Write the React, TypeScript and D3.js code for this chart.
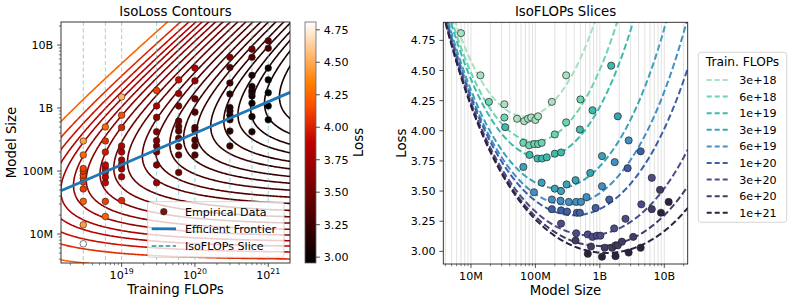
import React, { useEffect, useRef } from 'react';
import * as d3 from 'd3';

// IsoFLOP budgets (training FLOPs)
const budgets = [3e18, 6e18, 1e19, 3e19, 6e19, 1e20, 3e20, 6e20, 1e21];
const budgetLabels = ['3e+18', '6e+18', '1e+19', '3e+19', '6e+19', '1e+20', '3e+20', '6e+20', '1e+21'];
const budgetColors = ['#a6e1c0', '#6bd4b0', '#3dbaab', '#3ba3b6', '#4290c2', '#3d5fa7', '#4c4b8b', '#433a67', '#2c2240'];

// model sizes trained at each budget
const sliceSizes = [
  [7.0e6, 1.4e7, 3.3e7, 5.2e7, 6.7e7, 7.7e7, 8.6e7, 1.0e8, 1.1e8, 1.8e8, 3.0e8],
  [1.9e7, 3.3e7, 6.5e7, 8.0e7, 9.6e7, 1.1e8, 1.25e8, 2.0e8, 3.0e8, 5.0e8],
  [3.4e7, 8.1e7, 1.08e8, 1.27e8, 1.5e8, 2.0e8, 2.5e8, 4.9e8, 7.7e8, 1.5e9],
  [6.5e7, 1.25e8, 2.0e8, 2.5e8, 3.05e8, 4.2e8, 7.1e8, 1.08e9, 1.9e9],
  [9.5e7, 1.8e8, 2.45e8, 3.3e8, 4.3e8, 5.1e8, 6.2e8, 1.08e9, 1.7e9, 2.8e9],
  [1.8e8, 2.5e8, 3.1e8, 4.4e8, 4.9e8, 8.6e8, 1.4e9, 2.7e9, 4.3e9],
  [2.5e8, 4.3e8, 6.5e8, 7.7e8, 9.0e8, 1.02e9, 1.67e9, 2.5e9, 4.4e9, 6.4e9],
  [4.2e8, 7.3e8, 1.19e9, 1.55e9, 1.75e9, 1.9e9, 2.2e9, 3.3e9, 6.4e9, 8.6e9],
  [6.5e8, 1.08e9, 1.75e9, 2.8e9, 4.3e9, 8.9e9, 1.17e10],
];

// final loss of each run
const sliceLosses = [
  [4.81, 4.46, 4.22, 4.10, 4.08, 4.10, 4.11, 4.09, 4.12, 4.24, 4.46],
  [4.24, 4.11, 3.90, 3.88, 3.89, 3.89, 3.90, 3.97, 4.07, 4.26],
  [4.03, 3.80, 3.77, 3.77, 3.78, 3.81, 3.82, 4.01, 4.17, 4.54],
  [3.70, 3.57, 3.52, 3.50, 3.555, 3.59, 3.65, 3.79, 4.12],
  [3.49, 3.43, 3.42, 3.41, 3.41, 3.41, 3.45, 3.54, 3.74, 3.92],
  [3.35, 3.34, 3.33, 3.32, 3.32, 3.36, 3.43, 3.69, 3.83],
  [3.23, 3.15, 3.14, 3.12, 3.13, 3.13, 3.19, 3.27, 3.39, 3.61],
  [3.09, 3.04, 3.03, 3.03, 3.05, 3.05, 3.08, 3.12, 3.35, 3.51],
  [2.98, 2.955, 2.96, 2.99, 3.03, 3.32, 3.41],
];

// fitted L(N, D) = E + A / N^alpha + B / D^beta, D = C / (6N)
const fitE = 2.4;
const fitA = 684;
const fitAlpha = 0.37;
const fitB = 3822;
const fitBeta = 0.37;

// efficient frontier N_opt = k * C^a
const frontierK = 0.0398;
const frontierExp = 0.5;

const contourLevels = [2.95, 3.0, 3.05, 3.1, 3.16, 3.22, 3.29, 3.36, 3.44, 3.53, 3.62, 3.73, 3.84, 3.96,
  4.09, 4.22, 4.36, 4.5, 4.67, 4.89, 5.28];

const lossTicks = [3.0, 3.25, 3.5, 3.75, 4.0, 4.25, 4.5, 4.75];
const sizeTicks = [1e7, 1e8, 1e9, 1e10];
const sizeTickLabels = ['10M', '100M', '1B', '10B'];
const flopTicks = [1e19, 1e20, 1e21];
const flopTickExps = ['19', '20', '21'];

function gistHeat(t: number) {
  const c = (v: number) => Math.round(255 * Math.max(0, Math.min(1, v)));
  return `rgb(${c(1.5 * t)},${c(2 * t - 1)},${c(4 * t - 3)})`;
}

function fittedLoss(n: number, c: number) {
  const d = c / (6 * n);
  return fitE + fitA / Math.pow(n, fitAlpha) + fitB / Math.pow(d, fitBeta);
}

// 2..9 x 10^k inside a domain
function minorTicks(lo: number, hi: number) {
  const out: number[] = [];
  for (let e = Math.floor(Math.log10(lo)); e <= Math.ceil(Math.log10(hi)); e++) {
    for (let m = 2; m <= 9; m++) {
      const v = m * Math.pow(10, e);
      if (v >= lo && v <= hi) out.push(v);
    }
  }
  return out;
}

export default function App() {
  const svgRef = useRef<SVGSVGElement>(null);

  useEffect(() => {
    if (!svgRef.current) return;
    const svg = d3.select(svgRef.current);
    svg.selectAll('*').remove();

    const tickFs = 11.1;
    const majorLen = 3.9;
    const minorLen = 2.2;
    const pad = 3.9;
    const ink = '#222';

    const points = budgets.flatMap((c, k) =>
      sliceSizes[k].map((n, i) => ({ c, k, n, loss: sliceLosses[k][i] }))
    );
    const lossExtent = d3.extent(points, (d) => d.loss) as [number, number];
    const pointColor = d3.scaleSequential(gistHeat).domain(lossExtent);
    const lineColor = d3.scaleSequential(gistHeat).domain([2.75, 6.4]);

    const defs = svg.append('defs');

    // ---------------- left: IsoLoss contours ----------------
    const lp = { left: 61, right: 290, top: 22, bottom: 263 };
    const xC = d3.scaleLog().domain([1.49e18, 1.98e21]).range([lp.left, lp.right]);
    const yN = d3.scaleLog().domain([3.47e6, 2.32e10]).range([lp.bottom, lp.top]);

    defs.append('clipPath').attr('id', 'clip-left').append('rect')
      .attr('x', lp.left).attr('y', lp.top)
      .attr('width', lp.right - lp.left).attr('height', lp.bottom - lp.top);

    const plotL = svg.append('g').attr('clip-path', 'url(#clip-left)');

    // loss grid over log C / log N, wider than the axes so ring edges fall outside
    const nx = 240, ny = 240;
    const c0 = 17.9, c1 = 21.6, n0 = 6.2, n1 = 10.7;
    const dc = (c1 - c0) / (nx - 1), dn = (n1 - n0) / (ny - 1);
    const grid: number[] = new Array(nx * ny);
    for (let j = 0; j < ny; j++) {
      for (let i = 0; i < nx; i++) {
        grid[j * nx + i] = fittedLoss(Math.pow(10, n0 + j * dn), Math.pow(10, c0 + i * dc));
      }
    }
    const contours = d3.contours().size([nx, ny]).thresholds(contourLevels)(grid);
    const ringPath = (ring: number[][]) =>
      ring.map((p, i) => {
        const x = xC(Math.pow(10, c0 + (p[0] - 0.5) * dc));
        const y = yN(Math.pow(10, n0 + (p[1] - 0.5) * dn));
        return `${i ? 'L' : 'M'}${x.toFixed(2)},${y.toFixed(2)}`;
      }).join('');

    plotL.selectAll('path.iso')
      .data(contours)
      .enter()
      .append('path')
      .attr('class', 'iso')
      .attr('d', (d) => d.coordinates.map((poly) => poly.map(ringPath).join('')).join(''))
      .attr('fill', 'none')
      .attr('stroke', (d) => lineColor(d.value))
      .attr('stroke-width', 1.6);

    // IsoFLOP slice markers
    plotL.selectAll('line.slice')
      .data(budgets)
      .enter()
      .append('line')
      .attr('x1', (d) => xC(d)).attr('x2', (d) => xC(d))
      .attr('y1', lp.top).attr('y2', lp.bottom)
      .attr('stroke', '#5ab5b5')
      .attr('stroke-opacity', 0.6)
      .attr('stroke-width', 1)
      .attr('stroke-dasharray', '4,2.5');

    plotL.selectAll('circle')
      .data(points)
      .enter()
      .append('circle')
      .attr('cx', (d) => xC(d.c))
      .attr('cy', (d) => yN(d.n))
      .attr('r', 3.3)
      .attr('fill', (d) => pointColor(d.loss))
      .attr('stroke', ink)
      .attr('stroke-width', 0.6);

    const frontier = d3.line<number>()
      .x((c) => xC(c))
      .y((c) => yN(frontierK * Math.pow(c, frontierExp)));
    plotL.append('path')
      .attr('d', frontier(xC.domain()))
      .attr('fill', 'none')
      .attr('stroke', '#1f77b4')
      .attr('stroke-width', 2.8);

    // frame + ticks
    svg.append('rect')
      .attr('x', lp.left).attr('y', lp.top)
      .attr('width', lp.right - lp.left).attr('height', lp.bottom - lp.top)
      .attr('fill', 'none').attr('stroke', ink).attr('stroke-width', 0.9);

    const axL = svg.append('g').attr('stroke', ink).attr('stroke-width', 0.8);
    flopTicks.forEach((v) => {
      axL.append('line').attr('x1', xC(v)).attr('x2', xC(v)).attr('y1', lp.bottom).attr('y2', lp.bottom + majorLen);
    });
    minorTicks(...(xC.domain() as [number, number])).forEach((v) => {
      axL.append('line').attr('x1', xC(v)).attr('x2', xC(v)).attr('y1', lp.bottom).attr('y2', lp.bottom + minorLen).attr('stroke-width', 0.6);
    });
    sizeTicks.forEach((v) => {
      axL.append('line').attr('x1', lp.left - majorLen).attr('x2', lp.left).attr('y1', yN(v)).attr('y2', yN(v));
    });
    minorTicks(...(yN.domain() as [number, number])).forEach((v) => {
      axL.append('line').attr('x1', lp.left - minorLen).attr('x2', lp.left).attr('y1', yN(v)).attr('y2', yN(v)).attr('stroke-width', 0.6);
    });

    flopTicks.forEach((v, i) => {
      const t = svg.append('text')
        .attr('x', xC(v)).attr('y', lp.bottom + majorLen + pad + 8.2)
        .attr('text-anchor', 'middle')
        .style('font-size', `${tickFs}px`);
      t.append('tspan').text('10');
      t.append('tspan').attr('dy', -5).style('font-size', '7.8px').text(flopTickExps[i]);
    });
    sizeTicks.forEach((v, i) => {
      svg.append('text')
        .attr('x', lp.left - majorLen - pad).attr('y', yN(v)).attr('dy', '0.36em')
        .attr('text-anchor', 'end')
        .style('font-size', `${tickFs}px`)
        .text(sizeTickLabels[i]);
    });

    svg.append('text').attr('x', (lp.left + lp.right) / 2).attr('y', 16)
      .attr('text-anchor', 'middle').style('font-size', '13.3px').text('IsoLoss Contours');
    svg.append('text').attr('x', (lp.left + lp.right) / 2).attr('y', 294)
      .attr('text-anchor', 'middle').style('font-size', '13.3px').text('Training FLOPs');
    svg.append('text').attr('transform', `translate(16,${(lp.top + lp.bottom) / 2}) rotate(-90)`)
      .attr('text-anchor', 'middle').style('font-size', '13.3px').text('Model Size');

    // legend (left)
    const lg = svg.append('g');
    lg.append('rect').attr('x', 147.7).attr('y', 201.7).attr('width', 136.3).attr('height', 55.6)
      .attr('rx', 2.5).attr('fill', '#fff').attr('fill-opacity', 0.8).attr('stroke', '#cccccc').attr('stroke-width', 0.8);
    const legRows = [211.7, 228.8, 246];
    lg.append('circle').attr('cx', 163.8).attr('cy', legRows[0]).attr('r', 3.3)
      .attr('fill', '#8b0a0a').attr('stroke', ink).attr('stroke-width', 0.6);
    lg.append('line').attr('x1', 151.7).attr('x2', 176).attr('y1', legRows[1]).attr('y2', legRows[1])
      .attr('stroke', '#1f77b4').attr('stroke-width', 2.8);
    lg.append('line').attr('x1', 151.7).attr('x2', 176).attr('y1', legRows[2]).attr('y2', legRows[2])
      .attr('stroke', '#4fb2b0').attr('stroke-width', 2.2).attr('stroke-dasharray', '4.5,2.5');
    ['Empirical Data', 'Efficient Frontier', 'IsoFLOPs Slice'].forEach((s, i) => {
      lg.append('text').attr('x', 185).attr('y', legRows[i]).attr('dy', '0.36em')
        .style('font-size', `${tickFs}px`).text(s);
    });

    // colorbar
    const cb = { x: 305, y: 22, w: 11, h: 241 };
    const yCb = d3.scaleLinear().domain(lossExtent).range([cb.y + cb.h, cb.y]);
    const grad = defs.append('linearGradient').attr('id', 'cb-grad')
      .attr('x1', 0).attr('y1', 1).attr('x2', 0).attr('y2', 0);
    d3.range(0, 1.0001, 0.05).forEach((t) => {
      grad.append('stop').attr('offset', t).attr('stop-color', gistHeat(t));
    });
    svg.append('rect').attr('x', cb.x).attr('y', cb.y).attr('width', cb.w).attr('height', cb.h)
      .attr('fill', 'url(#cb-grad)').attr('stroke', '#666').attr('stroke-width', 0.8);
    lossTicks.forEach((v) => {
      svg.append('line').attr('x1', cb.x + cb.w).attr('x2', cb.x + cb.w + majorLen)
        .attr('y1', yCb(v)).attr('y2', yCb(v)).attr('stroke', ink).attr('stroke-width', 0.8);
      svg.append('text').attr('x', cb.x + cb.w + majorLen + pad).attr('y', yCb(v)).attr('dy', '0.36em')
        .style('font-size', `${tickFs}px`).text(v.toFixed(2));
    });
    svg.append('text').attr('transform', `translate(363,${cb.y + cb.h / 2}) rotate(-90)`)
      .attr('text-anchor', 'middle').style('font-size', '13.3px').text('Loss');

    // ---------------- right: IsoFLOPs slices ----------------
    const rp = { left: 443.3, right: 687.7, top: 22.3, bottom: 264 };
    const xN = d3.scaleLog().domain([3.72e6, 2.31e10]).range([rp.left, rp.right]);
    const yL = d3.scaleLinear().domain([2.895, 4.9]).range([rp.bottom, rp.top]);

    defs.append('clipPath').attr('id', 'clip-right').append('rect')
      .attr('x', rp.left).attr('y', rp.top)
      .attr('width', rp.right - rp.left).attr('height', rp.bottom - rp.top);
    const plotR = svg.append('g').attr('clip-path', 'url(#clip-right)');

    const gridVals = [...sizeTicks, ...minorTicks(...(xN.domain() as [number, number]))];
    plotR.selectAll('line.grid')
      .data(gridVals)
      .enter()
      .append('line')
      .attr('x1', (d) => xN(d)).attr('x2', (d) => xN(d))
      .attr('y1', rp.top).attr('y2', rp.bottom)
      .attr('stroke', '#dedede').attr('stroke-width', 0.9);

    const [lnLo, lnHi] = xN.domain().map(Math.log10);
    const curveNs = d3.range(0, 301).map((i) => Math.pow(10, lnLo + (i * (lnHi - lnLo)) / 300));
    budgets.forEach((c, k) => {
      const line = d3.line<number>().x((n) => xN(n)).y((n) => yL(fittedLoss(n, c)));
      plotR.append('path')
        .attr('d', line(curveNs.filter((n) => fittedLoss(n, c) < 6)))
        .attr('fill', 'none')
        .attr('stroke', budgetColors[k])
        .attr('stroke-width', 2)
        .attr('stroke-dasharray', '6.5,3');
    });

    plotR.selectAll('circle')
      .data(points)
      .enter()
      .append('circle')
      .attr('cx', (d) => xN(d.n))
      .attr('cy', (d) => yL(d.loss))
      .attr('r', 3.6)
      .attr('fill', (d) => budgetColors[d.k])
      .attr('stroke', ink)
      .attr('stroke-width', 0.7);

    svg.append('rect')
      .attr('x', rp.left).attr('y', rp.top)
      .attr('width', rp.right - rp.left).attr('height', rp.bottom - rp.top)
      .attr('fill', 'none').attr('stroke', ink).attr('stroke-width', 0.9);

    const axR = svg.append('g').attr('stroke', ink).attr('stroke-width', 0.8);
    sizeTicks.forEach((v) => {
      axR.append('line').attr('x1', xN(v)).attr('x2', xN(v)).attr('y1', rp.bottom).attr('y2', rp.bottom + majorLen);
    });
    minorTicks(...(xN.domain() as [number, number])).forEach((v) => {
      axR.append('line').attr('x1', xN(v)).attr('x2', xN(v)).attr('y1', rp.bottom).attr('y2', rp.bottom + minorLen).attr('stroke-width', 0.6);
    });
    lossTicks.forEach((v) => {
      axR.append('line').attr('x1', rp.left - majorLen).attr('x2', rp.left).attr('y1', yL(v)).attr('y2', yL(v));
    });
    sizeTicks.forEach((v, i) => {
      svg.append('text').attr('x', xN(v)).attr('y', rp.bottom + majorLen + pad + 8.2)
        .attr('text-anchor', 'middle').style('font-size', `${tickFs}px`).text(sizeTickLabels[i]);
    });
    lossTicks.forEach((v) => {
      svg.append('text').attr('x', rp.left - majorLen - pad).attr('y', yL(v)).attr('dy', '0.36em')
        .attr('text-anchor', 'end').style('font-size', `${tickFs}px`).text(v.toFixed(2));
    });

    svg.append('text').attr('x', (rp.left + rp.right) / 2).attr('y', 16.3)
      .attr('text-anchor', 'middle').style('font-size', '13.3px').text('IsoFLOPs Slices');
    svg.append('text').attr('x', (rp.left + rp.right) / 2).attr('y', 294.5)
      .attr('text-anchor', 'middle').style('font-size', '13.3px').text('Model Size');
    svg.append('text').attr('transform', `translate(406,${(rp.top + rp.bottom) / 2}) rotate(-90)`)
      .attr('text-anchor', 'middle').style('font-size', '13.3px').text('Loss');

    // legend (right)
    const rg = svg.append('g');
    rg.append('rect').attr('x', 698.3).attr('y', 52.3).attr('width', 88.4).attr('height', 170)
      .attr('rx', 2.5).attr('fill', '#fff').attr('fill-opacity', 0.8).attr('stroke', '#cccccc').attr('stroke-width', 0.8);
    rg.append('text').attr('x', 742.5).attr('y', 61.7).attr('dy', '0.36em')
      .attr('text-anchor', 'middle').style('font-size', '12.2px').text('Train. FLOPs');
    budgetLabels.forEach((s, i) => {
      const y = 80 + i * 16.6;
      rg.append('line').attr('x1', 706.7).attr('x2', 730.7).attr('y1', y).attr('y2', y)
        .attr('stroke', budgetColors[i]).attr('stroke-width', 2).attr('stroke-dasharray', '5,3');
      rg.append('text').attr('x', 739.3).attr('y', y).attr('dy', '0.36em')
        .style('font-size', `${tickFs}px`).text(s);
    });
  }, []);

  return (
    <svg
      ref={svgRef}
      width={793}
      height={304}
      style={{ position: 'absolute', left: 0, top: 0, background: '#fff' }}
      fontFamily="'DejaVu Sans', sans-serif"
    />
  );
}
